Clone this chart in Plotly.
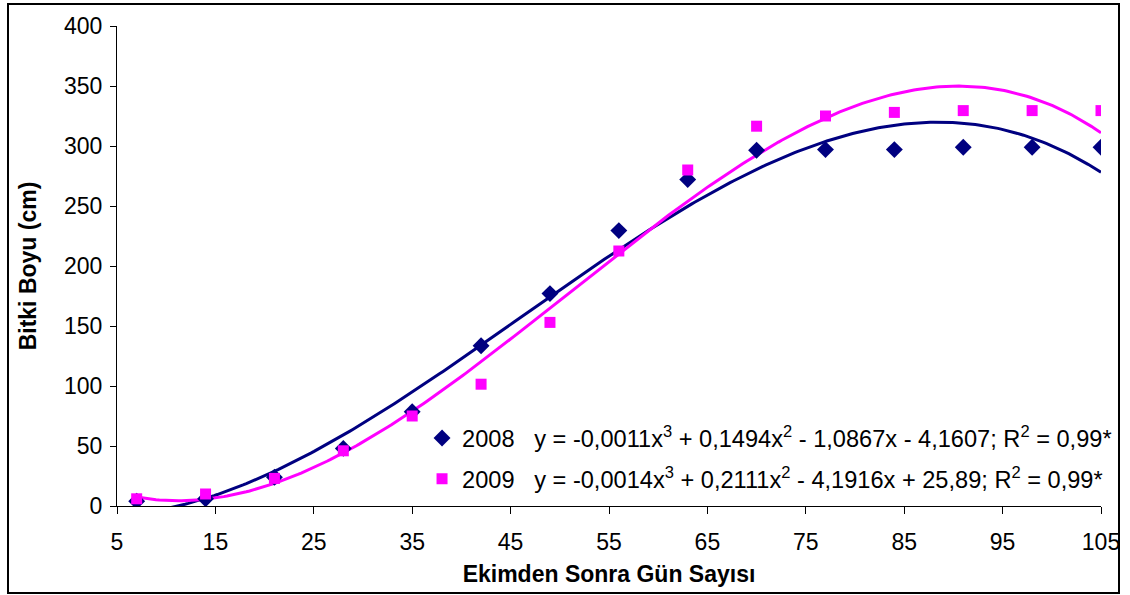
import numpy as np
import plotly.graph_objects as go

# Days after sowing and plant height (cm) for the two seasons
days = [7, 14, 21, 28, 35, 42, 49, 56, 63, 70, 77, 84, 91, 98, 105]
height_2008 = [4, 6, 24, 48, 78.5, 133.5, 177, 229.5, 272, 296.5, 297, 297, 299, 299, 299]
height_2009 = [6, 10, 23, 46, 75, 101.5, 153, 212.5, 280, 316.5, 325, 328, 329.5, 329.5, 329.5]

x_ticks = [5, 15, 25, 35, 45, 55, 65, 75, 85, 95, 105]
y_ticks = [0, 50, 100, 150, 200, 250, 300, 350, 400]

eq_2008 = ("y = -0,0011x<sup>3</sup> + 0,1494x<sup>2</sup> - 1,0867x - 4,1607; "
           "R<sup>2</sup> = 0,99*")
eq_2009 = ("y = -0,0014x<sup>3</sup> + 0,2111x<sup>2</sup> - 4,1916x + 25,89; "
           "R<sup>2</sup> = 0,99*")

NAVY = "#000080"
MAGENTA = "#FF00FF"
FONT = "Liberation Sans, Arial, sans-serif"

# Third-order polynomial trendlines fitted to each season's observations
xs = np.linspace(min(days), max(days), 300)
fit_2008 = np.polyval(np.polyfit(days, height_2008, 3), xs)
fit_2009 = np.polyval(np.polyfit(days, height_2009, 3), xs)

fig = go.Figure()

fig.add_trace(go.Scatter(x=xs, y=fit_2008, mode="lines",
                         line=dict(color=NAVY, width=3), showlegend=False,
                         hoverinfo="skip"))
fig.add_trace(go.Scatter(x=xs, y=fit_2009, mode="lines",
                         line=dict(color=MAGENTA, width=3), showlegend=False,
                         hoverinfo="skip"))

fig.add_trace(go.Scatter(
    x=days, y=height_2008, mode="markers",
    name="2008\u00a0\u00a0\u00a0" + eq_2008, legendgroup="a",
    marker=dict(symbol="diamond", size=13, color=NAVY),
))
fig.add_trace(go.Scatter(
    x=days, y=height_2009, mode="markers",
    name="2009\u00a0\u00a0\u00a0" + eq_2009, legendgroup="b",
    marker=dict(symbol="square", size=11, color=MAGENTA),
))

fig.update_layout(
    width=1130, height=595,
    margin=dict(l=117, r=29, t=26, b=89, autoexpand=False),
    paper_bgcolor="white", plot_bgcolor="white",
    font=dict(family=FONT, size=23, color="black"),
    showlegend=True,
    legend=dict(
        x=0.310, y=0.01, xanchor="left", yanchor="bottom",
        bgcolor="rgba(0,0,0,0)", traceorder="grouped", tracegroupgap=7,
        font=dict(family=FONT, size=23.6, color="black"),
        itemwidth=30,
    ),
    xaxis=dict(
        range=[5, 105], tickvals=x_ticks, ticktext=[str(v) for v in x_ticks],
        showline=True, linecolor="black", linewidth=1,
        ticks="outside", ticklen=7, tickcolor="black",
        showgrid=False, zeroline=False, ticklabelstandoff=8,
        title=dict(text="<b>Ekimden Sonra Gün Sayısı</b>",
                   font=dict(family=FONT, size=23), standoff=12),
    ),
    yaxis=dict(
        range=[0, 400], tickvals=y_ticks,
        showline=True, linecolor="black", linewidth=1,
        ticks="outside", ticklen=6, tickcolor="black",
        showgrid=False, zeroline=False, ticklabelstandoff=3,
        title=dict(text="<b>Bitki Boyu (cm)</b>",
                   font=dict(family=FONT, size=23), standoff=20),
    ),
    shapes=[dict(type="rect", xref="paper", yref="paper",
                 x0=-109 / 984, x1=1002 / 984, y0=-87 / 480, y1=1 + 22 / 480,
                 line=dict(color="black", width=2), layer="above")],
)

fig.write_html("out.html")
